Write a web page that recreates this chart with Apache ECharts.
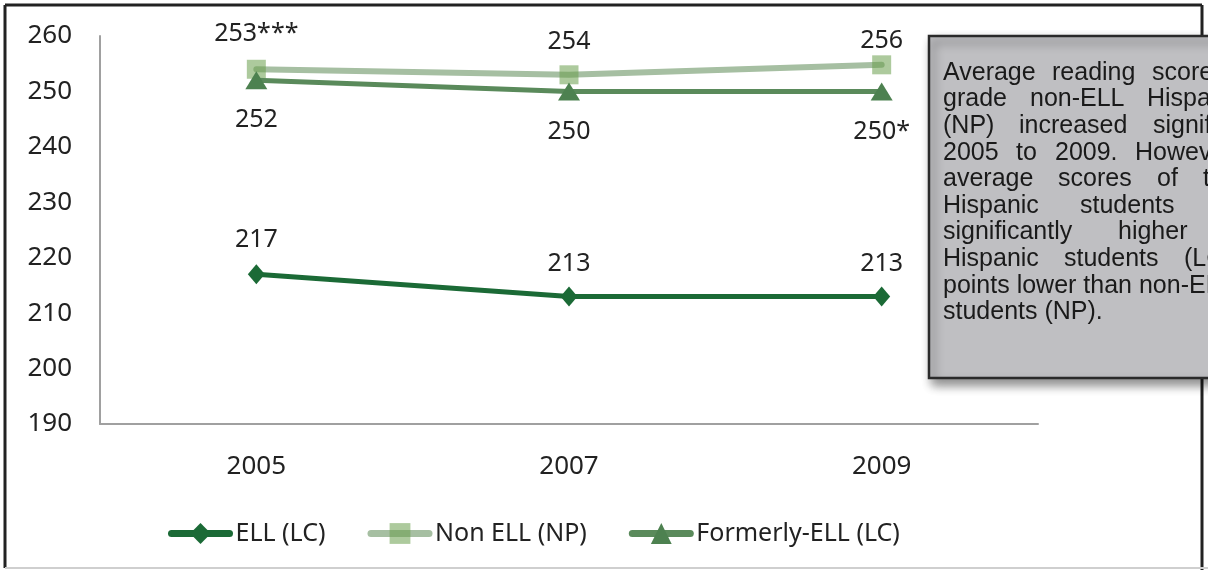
<!DOCTYPE html>
<html><head><meta charset="utf-8">
<script src="https://cdn.jsdelivr.net/npm/echarts@6/dist/echarts.min.js"></script>
<style>html,body{margin:0;padding:0;background:#fff}#c{width:1208px;height:570px}</style>
</head><body><div id="c"></div>
<script>
const years = ['2005', '2007', '2009'];
const ellValues = [217, 213, 213];
const ellLabels = ['217', '213', '213'];
const nonEllValues = [254, 253, 254.8];
const nonEllLabels = ['253***', '254', '256'];
const formerValues = [252, 250, 250];
const formerLabels = ['252', '250', '250*'];
const seriesNames = ['ELL (LC)', 'Non ELL (NP)', 'Formerly-ELL (LC)'];
const yTicks = [190, 200, 210, 220, 230, 240, 250, 260];

const noteWords = [
  [['Average', 943], ['reading', 1052], ['scores', 1152]],
  [['grade', 943], ['non-ELL', 1030], ['Hispanic', 1147]],
  [['(NP)', 943], ['increased', 1019], ['significantly', 1153]],
  [['2005', 943], ['to', 1016], ['2009.', 1055], ['However,', 1135]],
  [['average', 943], ['scores', 1058], ['of', 1157], ['the', 1203]],
  [['Hispanic', 943], ['students', 1080]],
  [['significantly', 943], ['higher', 1118]],
  [['Hispanic', 943], ['students', 1064], ['(LC)', 1184]],
  [['points lower than non-ELL', 943]],
  [['students (NP).', 943]]
];

const chart = echarts.init(document.getElementById('c'));
const font = 'Noto Sans';
function lbl(arr, offs) {
  return (v, i) => ({
    value: v,
    label: {
      show: true, position: 'inside', offset: [0, offs[i]],
      formatter: arr[i],
      fontFamily: font, fontSize: 25, color: '#222'
    }
  });
}
const noteTexts = [];
noteWords.forEach((line, i) => {
  line.forEach(w => {
    noteTexts.push({
      type: 'text', x: w[1], y: 73 + i * 26.6, z: 12,
      style: { text: w[0], fill: '#1a1a1a', fontFamily: 'Liberation Sans', fontSize: 25, verticalAlign: 'middle', align: 'left' }
    });
  });
});

chart.setOption({
  animation: false,
  backgroundColor: '#fff',
  grid: { left: 100, right: 170, top: 36, bottom: 146, containLabel: false },
  xAxis: {
    type: 'category', data: years, boundaryGap: true,
    axisLine: { lineStyle: { color: '#a0a0a0', width: 2 } },
    axisTick: { show: false },
    axisLabel: { margin: 30, fontFamily: font, fontSize: 26, color: '#222' }
  },
  yAxis: {
    type: 'value', min: yTicks[0], max: yTicks[yTicks.length - 1], interval: 10,
    axisLine: { show: true, lineStyle: { color: '#a0a0a0', width: 2 } },
    axisTick: { show: false },
    splitLine: { show: false },
    axisLabel: { margin: 28, fontFamily: font, fontSize: 26, color: '#222', padding: [4, 0, 0, 0] }
  },
  legend: {
    left: 163, top: 516,
    itemWidth: 58, itemHeight: 26, itemGap: 42,
    lineStyle: { width: 7, cap: 'round' },
    textStyle: { fontFamily: font, fontSize: 25, color: '#222', padding: [0, 0, 0, 1] },
    data: seriesNames
  },
  series: [
    {
      name: seriesNames[1], type: 'line', z: 3,
      data: nonEllValues.map(lbl(nonEllLabels, [-35, -33, -24])),
      symbol: 'rect', symbolSize: 19,
      lineStyle: { color: '#a6bfa2', width: 6, cap: 'round' },
      itemStyle: { color: 'rgba(106,158,76,0.55)' }
    },
    {
      name: seriesNames[2], type: 'line', z: 4,
      data: formerValues.map(lbl(formerLabels, [40, 40, 40])),
      symbol: 'triangle', symbolSize: [22, 18],
      lineStyle: { color: '#5a8a5b', width: 5, cap: 'round' },
      itemStyle: { color: '#4d8150' }
    },
    {
      name: seriesNames[0], type: 'line', z: 5,
      data: ellValues.map(lbl(ellLabels, [-34, -33, -33])),
      symbol: 'diamond', symbolSize: [17, 20],
      lineStyle: { color: '#1b6a36', width: 5, cap: 'round' },
      itemStyle: { color: '#1b6a36' }
    }
  ],
  graphic: [
    { type: 'line', z: 10, shape: { x1: 5, y1: 5, x2: 1202, y2: 5 }, style: { stroke: '#222', lineWidth: 3 } },
    { type: 'line', z: 10, shape: { x1: 5, y1: 5, x2: 5, y2: 568 }, style: { stroke: '#222', lineWidth: 3 } },
    { type: 'line', z: 10, shape: { x1: 1202, y1: 5, x2: 1202, y2: 570 }, style: { stroke: '#222', lineWidth: 3 } },
    { type: 'line', z: 10, shape: { x1: 5, y1: 568, x2: 1208, y2: 568 }, style: { stroke: '#cfcfcf', lineWidth: 2 } },
    {
      type: 'rect', z: 11, shape: { x: 929, y: 36, width: 320, height: 342 },
      style: { fill: '#bfbfc2', stroke: '#2a2a2a', lineWidth: 2.5, shadowBlur: 10, shadowOffsetX: 4, shadowOffsetY: 6, shadowColor: 'rgba(0,0,0,0.45)' }
    }
  ].concat(noteTexts)
});
</script></body></html>
